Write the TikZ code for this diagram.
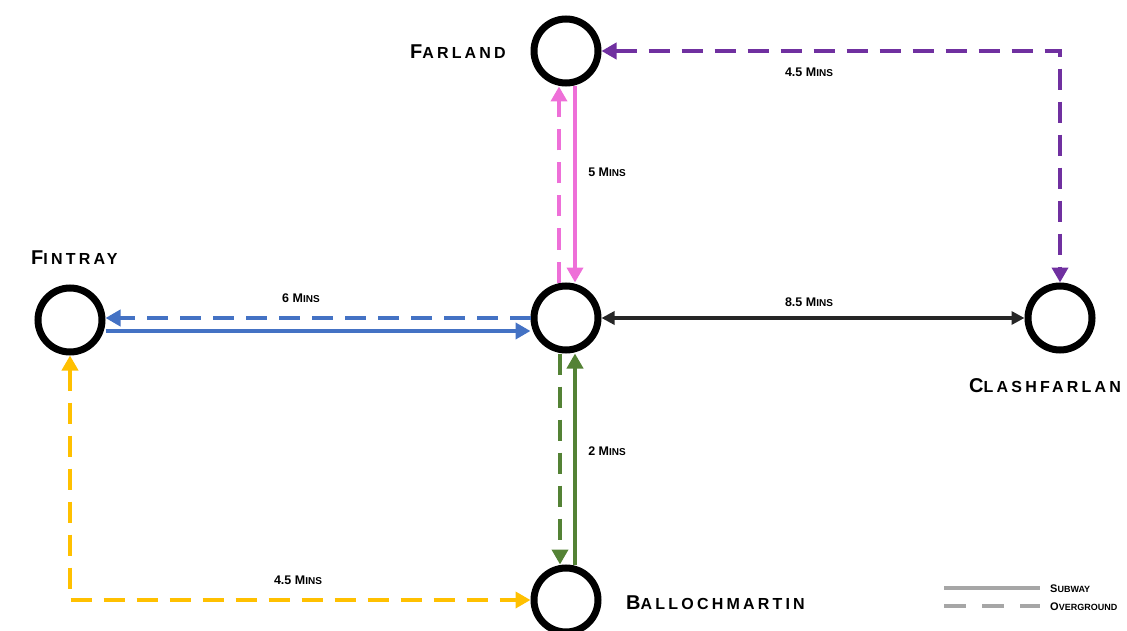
\documentclass[tikz,border=0pt]{standalone}
\usepackage{fontspec}
\setmainfont{Liberation Sans}
\usetikzlibrary{arrows.meta,calc}
\definecolor{cpink}{HTML}{EE6FD8}
\definecolor{cpurple}{HTML}{7030A0}
\definecolor{cblue}{HTML}{4472C4}
\definecolor{cgreen}{HTML}{548235}
\definecolor{cyellow}{HTML}{FFC000}
\definecolor{cblack}{HTML}{262626}
\definecolor{cgray}{HTML}{A6A6A6}
\newcommand{\stn}[2]{{\bfseries\addfontfeature{LetterSpace=20}\fontsize{20}{20}\selectfont #1\fontsize{16}{16}\selectfont #2}}
\newcommand{\mins}[2]{{\bfseries\fontsize{12.5}{13}\selectfont #1\fontsize{10}{10}\selectfont #2}}
\newcommand{\leg}[2]{{\bfseries\fontsize{11}{11}\selectfont #1\fontsize{9}{9}\selectfont #2}}
\tikzset{
  station/.style={circle,draw=black,line width=7pt,minimum size=64pt,inner sep=0pt,fill=white},
  conn/.style={line width=4pt,-{Triangle[length=15pt,width=16pt]}},
  dconn/.style={conn,dash pattern=on 21pt off 12pt},
  lbl/.style={inner sep=0pt,anchor=base},
}
\begin{document}
\begin{tikzpicture}[x=1pt,y=-1pt]
\useasboundingbox (0,0) rectangle (1127,631);
% stations
\node[station] (far) at (566,51) {};
\node[station] (hub) at (566,318) {};
\node[station] (fin) at (70,320) {};
\node[station] (cla) at (1060,318) {};
\node[station] (bal) at (566,600) {};
% station labels
\node[inner sep=0pt,anchor=base east] (farl) at (506,59) {\stn{F}{ARLAND}};
\node[inner sep=0pt,anchor=base west] (finl) at (31,265) {\stn{F}{INTRAY}};
\node[inner sep=0pt,anchor=base west] (clal) at (969,392) {\stn{C}{LASHFARLAN}};
\node[inner sep=0pt,anchor=base west] (ball) at (626,609) {\stn{B}{ALLOCHMARTIN}};
% pink: hub <-> farland
\draw[dconn,cpink] ([xshift=-7pt]hub.north) -- ([xshift=-7pt]far.south);
\draw[conn,cpink] ([xshift=9pt]far.south) -- ([xshift=9pt]hub.north);
\node[lbl] (l5) at (607,177) {\mins{5 M}{INS}};
% purple: farland / clashfarlan
\coordinate (pc) at (far.east -| cla.north);
\draw[dconn,cpurple,{Triangle[length=15pt,width=16pt]}-{Triangle[length=15pt,width=16pt]}] (far.east) -- (pc) -- (cla.north);
\node[lbl] (l45a) at (809,77) {\mins{4.5 M}{INS}};
% blue: hub <-> fintray
\draw[dconn,cblue] (hub.west) -- (fin.east |- hub.west);
\draw[conn,cblue] ([yshift=-11pt]fin.east) -- ([yshift=-11pt]fin.east -| hub.west);
\node[lbl] (l6) at (301,302) {\mins{6 M}{INS}};
% black: hub <-> clashfarlan
\draw[conn,cblack,line width=3.5pt,{Triangle[length=13pt,width=13pt]}-{Triangle[length=13pt,width=13pt]}] (hub) -- (cla);
\node[lbl] (l85) at (809,306) {\mins{8.5 M}{INS}};
% green: hub <-> ballochmartin
\draw[dconn,cgreen] ([xshift=-6pt]hub.south) -- ([xshift=-6pt]bal.north);
\draw[conn,cgreen] ([xshift=9pt]bal.north) -- ([xshift=9pt]hub.south);
\node[lbl] (l2) at (607,455) {\mins{2 M}{INS}};
% yellow: fintray / ballochmartin
\coordinate (yc) at (fin.south |- bal.west);
\draw[dconn,cyellow,{Triangle[length=15pt,width=16pt]}-{Triangle[length=15pt,width=16pt]}] (fin.south) -- (yc) -- (bal.west);
\node[lbl] (l45b) at (298,584) {\mins{4.5 M}{INS}};
% legend
\coordinate (ls1) at (944,588);
\coordinate (ls2) at (1040,588);
\coordinate (ld1) at (944,606);
\coordinate (ld2) at (1040,606);
\draw[cgray,line width=4.5pt] (ls1) -- (ls2);
\draw[cgray,line width=4.5pt,dash pattern=on 22pt off 16pt] (ld1) -- (ld2);
\node[inner sep=0pt,anchor=base west] (lsub) at (1050,592) {\leg{S}{UBWAY}};
\node[inner sep=0pt,anchor=base west] (lover) at (1050,610) {\leg{O}{VERGROUND}};
\end{tikzpicture}
\end{document}
